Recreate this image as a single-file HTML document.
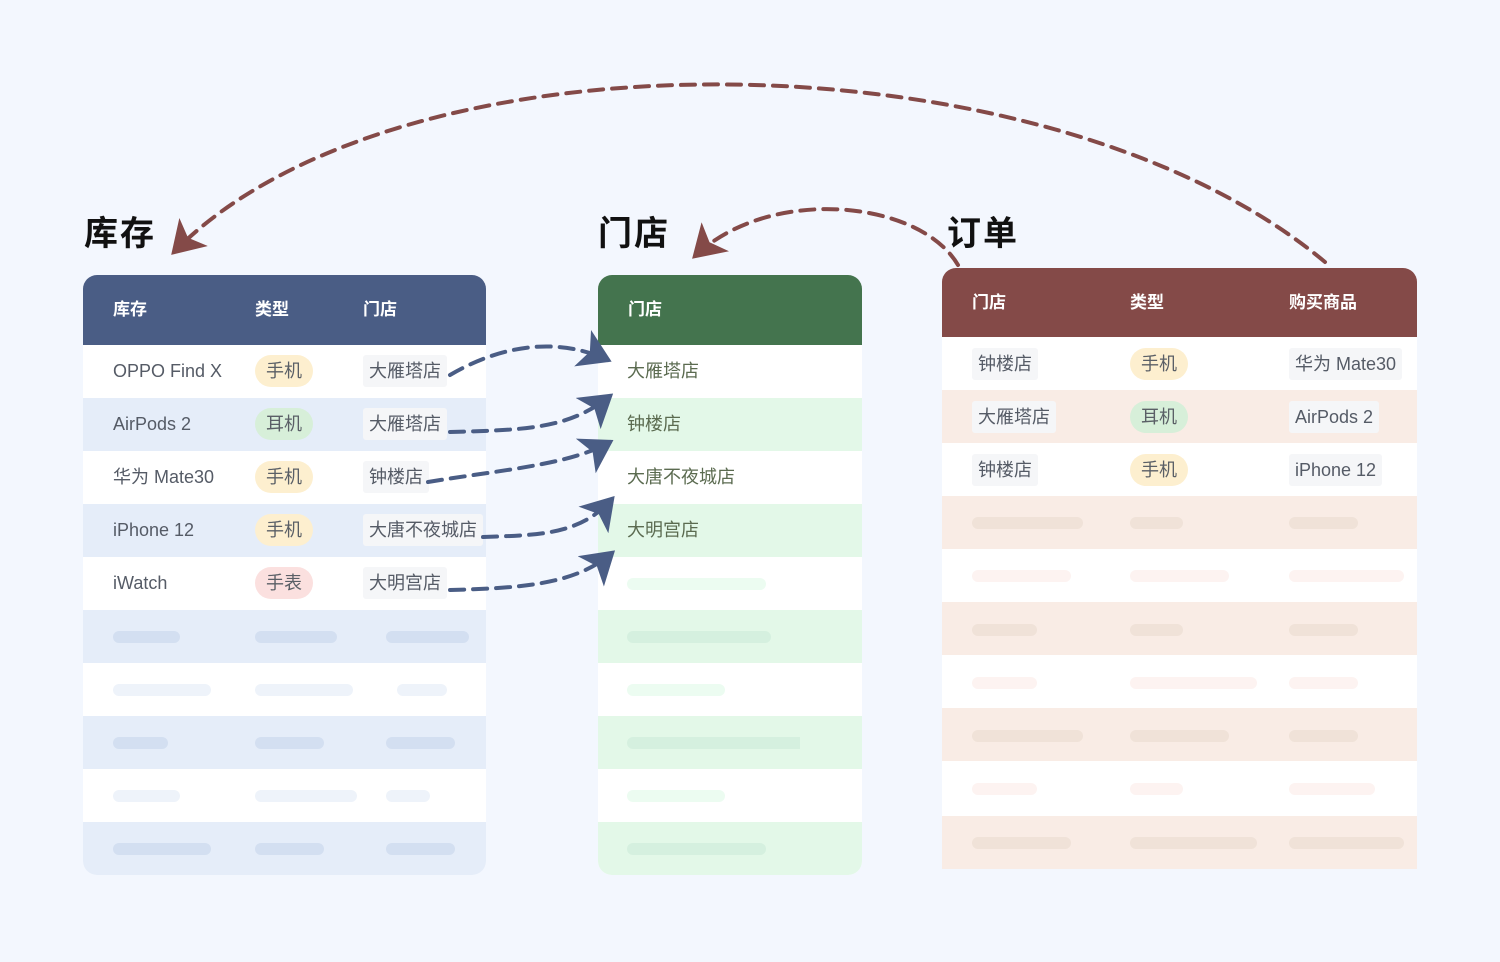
<!DOCTYPE html>
<html><head><meta charset="utf-8"><style>
*{margin:0;padding:0;box-sizing:border-box}
body{width:1500px;height:962px;background:#f3f7fe;position:relative;overflow:hidden;font-family:"Liberation Sans","Noto Sans CJK SC",sans-serif}
.a{position:absolute}
.t{font-size:34px;font-weight:bold;color:#111;letter-spacing:2px}
.h{font-size:17px;font-weight:bold;color:#fff}
.c{font-size:18px;color:#555b66;line-height:53px}
.pill{position:absolute;height:32px;width:58px;border-radius:16px;text-align:center;line-height:32px;font-size:18px;color:#5a5f66}
.tag{position:absolute;height:32px;border-radius:3px;background:#f5f6f8;line-height:32px;font-size:18px;color:#555b66;padding:0 6px}
.bar{position:absolute;height:12px;border-radius:6px}
.g{color:#5b6b50}
</style></head><body>
<div class="a t" style="left:84px;top:206px">库存</div>
<div class="a t" style="left:598px;top:206px">门店</div>
<div class="a t" style="left:947px;top:206px">订单</div>

<!-- left table -->
<div class="a" style="left:83px;top:275px;width:403px;height:600px;border-radius:14px;overflow:hidden;background:#fff">
<div class="a" style="left:0;top:0;width:403px;height:70px;background:#4a5d85"></div>
<div class="a" style="left:0;top:123px;width:403px;height:53px;background:#e5edf9"></div>
<div class="a" style="left:0;top:229px;width:250px;height:53px;background:#e5edf9"></div>
<div class="a" style="left:250px;top:229px;width:153px;height:53px;background:#e5edf9"></div>
<div class="a" style="left:0;top:335px;width:403px;height:53px;background:#e5edf9"></div>
<div class="a" style="left:0;top:441px;width:403px;height:53px;background:#e5edf9"></div>
<div class="a" style="left:0;top:547px;width:403px;height:53px;background:#e5edf9"></div>
</div>
<div class="a h" style="left:113px;top:295px">库存</div>
<div class="a h" style="left:255px;top:295px">类型</div>
<div class="a h" style="left:363px;top:295px">门店</div>
<div class="a c" style="left:113px;top:345px">OPPO Find X</div>
<div class="a c" style="left:113px;top:398px">AirPods 2</div>
<div class="a c" style="left:113px;top:451px">华为 Mate30</div>
<div class="a c" style="left:113px;top:504px">iPhone 12</div>
<div class="a c" style="left:113px;top:557px">iWatch</div>
<div class="pill" style="left:255px;top:355px;background:#fdefcf">手机</div>
<div class="pill" style="left:255px;top:408px;background:#d7efd9">耳机</div>
<div class="pill" style="left:255px;top:461px;background:#fdefcf">手机</div>
<div class="pill" style="left:255px;top:514px;background:#fdefcf">手机</div>
<div class="pill" style="left:255px;top:567px;background:#fbe0df">手表</div>
<div class="tag" style="left:363px;top:355px">大雁塔店</div>
<div class="tag" style="left:363px;top:408px">大雁塔店</div>
<div class="tag" style="left:363px;top:461px">钟楼店</div>
<div class="tag" style="left:363px;top:514px">大唐不夜城店</div>
<div class="tag" style="left:363px;top:567px">大明宫店</div>
<div class="bar" style="left:113px;top:631px;width:67px;background:#d3dff1"></div><div class="bar" style="left:255px;top:631px;width:82px;background:#d3dff1"></div><div class="bar" style="left:386px;top:631px;width:83px;background:#d3dff1"></div>
<div class="bar" style="left:113px;top:684px;width:98px;background:#eef3fa"></div><div class="bar" style="left:255px;top:684px;width:98px;background:#eef3fa"></div><div class="bar" style="left:397px;top:684px;width:50px;background:#eef3fa"></div>
<div class="bar" style="left:113px;top:737px;width:55px;background:#d3dff1"></div><div class="bar" style="left:255px;top:737px;width:69px;background:#d3dff1"></div><div class="bar" style="left:386px;top:737px;width:69px;background:#d3dff1"></div>
<div class="bar" style="left:113px;top:790px;width:67px;background:#eef3fa"></div><div class="bar" style="left:255px;top:790px;width:102px;background:#eef3fa"></div><div class="bar" style="left:386px;top:790px;width:44px;background:#eef3fa"></div>
<div class="bar" style="left:113px;top:843px;width:98px;background:#d3dff1"></div><div class="bar" style="left:255px;top:843px;width:69px;background:#d3dff1"></div><div class="bar" style="left:386px;top:843px;width:69px;background:#d3dff1"></div>

<!-- middle table -->
<div class="a" style="left:598px;top:275px;width:264px;height:600px;border-radius:14px;overflow:hidden;background:#fff">
<div class="a" style="left:0;top:0;width:264px;height:70px;background:#44744e"></div>
<div class="a" style="left:0;top:123px;width:264px;height:53px;background:#e3f8e8"></div>
<div class="a" style="left:0;top:229px;width:264px;height:53px;background:#e3f8e8"></div>
<div class="a" style="left:0;top:335px;width:264px;height:53px;background:#e3f8e8"></div>
<div class="a" style="left:0;top:441px;width:264px;height:53px;background:#e3f8e8"></div>
<div class="a" style="left:0;top:547px;width:264px;height:53px;background:#e3f8e8"></div>
</div>
<div class="a h" style="left:628px;top:295px">门店</div>
<div class="a c g" style="left:627px;top:345px">大雁塔店</div>
<div class="a c g" style="left:627px;top:398px">钟楼店</div>
<div class="a c g" style="left:627px;top:451px">大唐不夜城店</div>
<div class="a c g" style="left:627px;top:504px">大明宫店</div>
<div class="bar" style="left:627px;top:578px;width:139px;background:#ecfcf1"></div>
<div class="bar" style="left:627px;top:631px;width:144px;background:#d5f0df"></div>
<div class="bar" style="left:627px;top:684px;width:98px;background:#ecfcf1"></div>
<div class="bar" style="left:627px;top:737px;width:173px;background:#d5f0df;border-radius:6px 0 0 6px"></div>
<div class="bar" style="left:627px;top:790px;width:98px;background:#ecfcf1"></div>
<div class="bar" style="left:627px;top:843px;width:139px;background:#d5f0df"></div>

<!-- right table -->
<div class="a" style="left:942px;top:268px;width:475px;height:601px;border-radius:14px 14px 0 0;overflow:hidden;background:#fff">
<div class="a" style="left:0;top:0;width:475px;height:69px;background:#844a48"></div>
<div class="a" style="left:0;top:122px;width:475px;height:53px;background:#f9ece5"></div>
<div class="a" style="left:0;top:228px;width:475px;height:53px;background:#f9ece5"></div>
<div class="a" style="left:0;top:334px;width:475px;height:53px;background:#f9ece5"></div>
<div class="a" style="left:0;top:440px;width:475px;height:53px;background:#f9ece5"></div>
<div class="a" style="left:0;top:548px;width:475px;height:53px;background:#f9ece5"></div>
</div>
<div class="a h" style="left:972px;top:288px">门店</div>
<div class="a h" style="left:1130px;top:288px">类型</div>
<div class="a h" style="left:1289px;top:288px">购买商品</div>
<div class="tag" style="left:972px;top:348px">钟楼店</div>
<div class="tag" style="left:972px;top:401px">大雁塔店</div>
<div class="tag" style="left:972px;top:454px">钟楼店</div>
<div class="pill" style="left:1130px;top:348px;background:#fdefcf">手机</div>
<div class="pill" style="left:1130px;top:401px;background:#d7efd9">耳机</div>
<div class="pill" style="left:1130px;top:454px;background:#fdefcf">手机</div>
<div class="tag" style="left:1289px;top:348px">华为 Mate30</div>
<div class="tag" style="left:1289px;top:401px">AirPods 2</div>
<div class="tag" style="left:1289px;top:454px">iPhone 12</div>
<div class="bar" style="left:972px;top:517px;width:111px;background:#f0e2d8"></div><div class="bar" style="left:1130px;top:517px;width:53px;background:#f0e2d8"></div><div class="bar" style="left:1289px;top:517px;width:69px;background:#f0e2d8"></div>
<div class="bar" style="left:972px;top:570px;width:99px;background:#fdf3f1"></div><div class="bar" style="left:1130px;top:570px;width:99px;background:#fdf3f1"></div><div class="bar" style="left:1289px;top:570px;width:115px;background:#fdf3f1"></div>
<div class="bar" style="left:972px;top:624px;width:65px;background:#f0e2d8"></div><div class="bar" style="left:1130px;top:624px;width:53px;background:#f0e2d8"></div><div class="bar" style="left:1289px;top:624px;width:69px;background:#f0e2d8"></div>
<div class="bar" style="left:972px;top:677px;width:65px;background:#fdf3f1"></div><div class="bar" style="left:1130px;top:677px;width:127px;background:#fdf3f1"></div><div class="bar" style="left:1289px;top:677px;width:69px;background:#fdf3f1"></div>
<div class="bar" style="left:972px;top:730px;width:111px;background:#f0e2d8"></div><div class="bar" style="left:1130px;top:730px;width:99px;background:#f0e2d8"></div><div class="bar" style="left:1289px;top:730px;width:69px;background:#f0e2d8"></div>
<div class="bar" style="left:972px;top:783px;width:65px;background:#fdf3f1"></div><div class="bar" style="left:1130px;top:783px;width:53px;background:#fdf3f1"></div><div class="bar" style="left:1289px;top:783px;width:86px;background:#fdf3f1"></div>
<div class="bar" style="left:972px;top:837px;width:99px;background:#f0e2d8"></div><div class="bar" style="left:1130px;top:837px;width:127px;background:#f0e2d8"></div><div class="bar" style="left:1289px;top:837px;width:115px;background:#f0e2d8"></div>

<svg class="a" style="left:0;top:0" width="1500" height="962">
<defs>
<marker id="mb" markerWidth="10" markerHeight="10" refX="7" refY="5" orient="auto" markerUnits="strokeWidth"><path d="M0,0 L8,5 L0,10 L2,5 Z" fill="#4a5d85"/></marker>
<marker id="mr" markerWidth="10" markerHeight="10" refX="7" refY="5" orient="auto" markerUnits="strokeWidth"><path d="M0,0 L8,5 L0,10 L2,5 Z" fill="#844a48"/></marker>
</defs>
<g fill="none" stroke-width="4" stroke-dasharray="14 9" stroke-linecap="round">
<path d="M1325,262 C1050,32 400,22 174,252" stroke="#844a48" marker-end="url(#mr)"/>
<path d="M958,265 C920,200 770,185 695,256" stroke="#844a48" marker-end="url(#mr)"/>
<path d="M450,375 C510,340 565,340 608,360" stroke="#4a5d85" marker-end="url(#mb)"/>
<path d="M450,432 C530,430 570,428 610,396" stroke="#4a5d85" marker-end="url(#mb)"/>
<path d="M428,482 C500,470 570,465 610,442" stroke="#4a5d85" marker-end="url(#mb)"/>
<path d="M483,537 C540,535 580,535 612,499" stroke="#4a5d85" marker-end="url(#mb)"/>
<path d="M450,590 C520,588 575,585 612,553" stroke="#4a5d85" marker-end="url(#mb)"/>
</g>
</svg>
</body></html>
